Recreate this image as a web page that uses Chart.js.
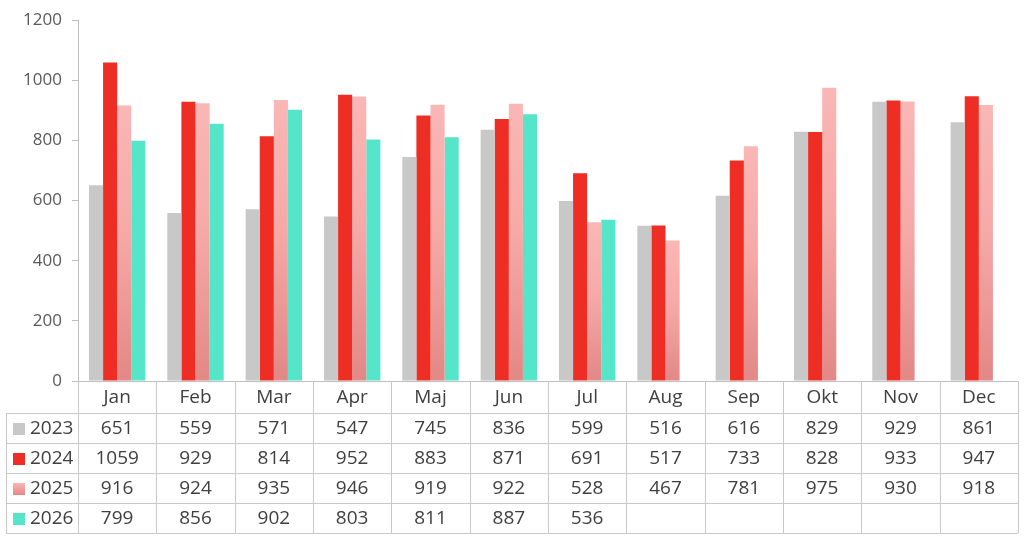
<!DOCTYPE html>
<html>
<head>
<meta charset="utf-8">
<script src="https://cdn.jsdelivr.net/npm/chart.js@4.4.1/dist/chart.umd.min.js"></script>
<style>
  html, body { margin: 0; padding: 0; background: #fff; }
  #wrap { width: 1024px; height: 540px; }
</style>
</head>
<body>
<div id="wrap"><canvas id="salesChart" width="1024" height="540"></canvas></div>
<script>
const months = ['Jan', 'Feb', 'Mar', 'Apr', 'Maj', 'Jun', 'Jul', 'Aug', 'Sep', 'Okt', 'Nov', 'Dec'];
const years = ['2023', '2024', '2025', '2026'];
const values2023 = [651, 559, 571, 547, 745, 836, 599, 516, 616, 829, 929, 861];
const values2024 = [1059, 929, 814, 952, 883, 871, 691, 517, 733, 828, 933, 947];
const values2025 = [916, 924, 935, 946, 919, 922, 528, 467, 781, 975, 930, 918];
const values2026 = [799, 856, 902, 803, 811, 887, 536, null, null, null, null, null];
const yTicks = [0, 200, 400, 600, 800, 1000, 1200];

const FONT = '"Open Sans", "Liberation Sans", sans-serif';
const TEXT = '#404040';
const LINE = '#c8c8c8';

// pink bars fade darker towards the bottom, one gradient per bar
function pinkFill(ctx) {
  const chart = ctx.chart;
  if (!chart.chartArea || ctx.type !== 'data') return '#f7b0ae';
  const y = chart.scales.y;
  const top = y.getPixelForValue(ctx.raw);
  const bottom = y.getPixelForValue(0);
  const g = chart.ctx.createLinearGradient(0, top, 0, bottom);
  g.addColorStop(0, '#f9b7b5');
  g.addColorStop(0.45, '#f6aaa8');
  g.addColorStop(1, '#e28886');
  return g;
}

const tableRows = [
  { label: years[0], data: values2023, swatch: '#c8c8c8' },
  { label: years[1], data: values2024, swatch: '#ee2e24' },
  { label: years[2], data: values2025, swatch: 'pink' },
  { label: years[3], data: values2026, swatch: '#55e6c9' }
];

const dataTable = {
  id: 'dataTable',
  afterDraw(chart) {
    const c = chart.ctx;
    const area = chart.chartArea;
    const x = chart.scales.x;
    const step = (area.right - area.left) / months.length;
    const headTop = area.bottom;
    const rowTop = headTop + 32;
    const rowH = 30;
    const tableLeft = 6;
    const tableBottom = rowTop + rowH * tableRows.length;

    c.save();
    c.strokeStyle = LINE;
    c.lineWidth = 1;
    c.beginPath();
    for (let i = 0; i <= months.length; i++) {
      const px = Math.round(area.left + i * step) + 0.5;
      c.moveTo(px, headTop);
      c.lineTo(px, tableBottom);
    }
    c.moveTo(tableLeft + 0.5, rowTop);
    c.lineTo(tableLeft + 0.5, tableBottom);
    for (let r = 0; r <= tableRows.length; r++) {
      const py = rowTop + r * rowH + 0.5;
      c.moveTo(tableLeft, py);
      c.lineTo(area.right, py);
    }
    c.stroke();

    c.fillStyle = TEXT;
    c.font = '19px ' + FONT;
    c.textBaseline = 'middle';
    c.textAlign = 'center';
    months.forEach((m, i) => {
      c.fillText(m, x.getPixelForValue(i), headTop + 17);
    });

    tableRows.forEach((row, r) => {
      const cy = rowTop + r * rowH + rowH / 2 + 1;
      if (row.swatch === 'pink') {
        const g = c.createLinearGradient(0, cy - 6, 0, cy + 6);
        g.addColorStop(0, '#f9b7b5');
        g.addColorStop(1, '#e28886');
        c.fillStyle = g;
      } else {
        c.fillStyle = row.swatch;
      }
      c.fillRect(13, cy - 6, 12, 12);
      c.fillStyle = TEXT;
      c.textAlign = 'left';
      c.fillText(row.label, 30, cy);
      c.textAlign = 'center';
      row.data.forEach((v, i) => {
        if (v !== null) c.fillText(String(v), x.getPixelForValue(i), cy);
      });
    });
    c.restore();
  }
};

new Chart(document.getElementById('salesChart'), {
  type: 'bar',
  data: {
    labels: months,
    datasets: [
      { label: years[0], data: values2023, backgroundColor: '#c8c8c8' },
      { label: years[1], data: values2024, backgroundColor: '#ee2e24' },
      { label: years[2], data: values2025, backgroundColor: pinkFill },
      { label: years[3], data: values2026, backgroundColor: '#55e6c9' }
    ]
  },
  options: {
    responsive: false,
    animation: false,
    devicePixelRatio: 1,
    layout: { padding: { top: 20, right: 6, left: 0, bottom: 0 } },
    datasets: {
      bar: { categoryPercentage: 0.72, barPercentage: 1, borderWidth: 0 }
    },
    plugins: {
      legend: { display: false },
      tooltip: { enabled: false }
    },
    scales: {
      x: {
        ticks: { display: false },
        grid: { display: false },
        border: { display: true, color: '#bfbfbf' },
        afterFit(scale) { scale.height = 159; }
      },
      y: {
        min: 0,
        max: 1200,
        afterBuildTicks(scale) { scale.ticks = yTicks.map(v => ({ value: v })); },
        ticks: {
          color: '#595959',
          font: { family: FONT, size: 17 },
          padding: 10,
          callback: v => String(v)
        },
        grid: { drawOnChartArea: false, tickLength: 6, color: '#bfbfbf' },
        border: { display: true, color: '#bfbfbf' },
        afterFit(scale) { scale.width = 78; }
      }
    }
  },
  plugins: [dataTable]
});
</script>
</body>
</html>
